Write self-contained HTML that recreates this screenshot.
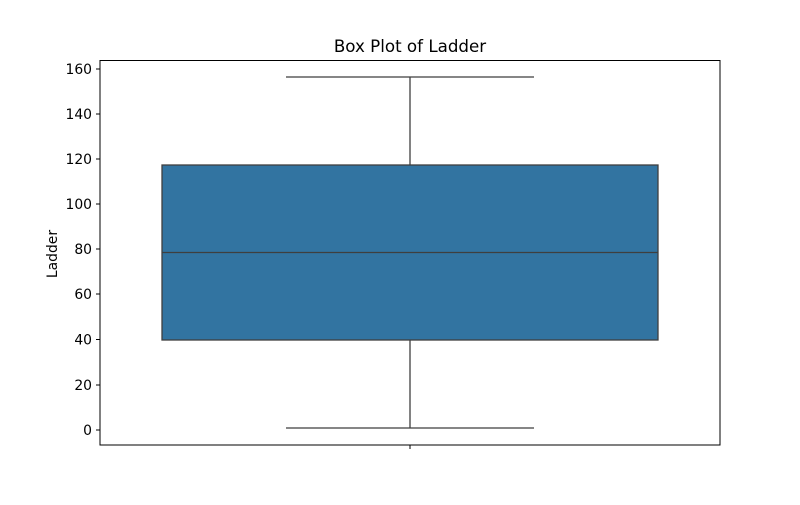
<!DOCTYPE html>
<html><head><style>body{margin:0;background:#fff}</style></head><body>
<svg width="800" height="500" xmlns="http://www.w3.org/2000/svg" font-family="DejaVu Sans, sans-serif">
<rect width="800" height="500" fill="#fff"/>
<text x="410" y="52" text-anchor="middle" font-size="16.7">Box Plot of Ladder</text>
<line x1="410" y1="77" x2="410" y2="165" stroke="#3f3f3f" stroke-width="1.3"/>
<line x1="410" y1="340" x2="410" y2="428" stroke="#3f3f3f" stroke-width="1.3"/>
<line x1="286" y1="77" x2="534" y2="77" stroke="#3f3f3f" stroke-width="1.3"/>
<line x1="286" y1="428" x2="534" y2="428" stroke="#3f3f3f" stroke-width="1.3"/>
<rect x="162" y="165" width="496" height="175" fill="#3274a1" stroke="#3f3f3f" stroke-width="1.3"/>
<line x1="162" y1="252.5" x2="658" y2="252.5" stroke="#3f3f3f" stroke-width="1.3"/>
<rect x="100" y="60.5" width="620" height="384.5" fill="none" stroke="#000" stroke-width="1"/>
<g font-size="13.9" text-anchor="end" fill="#000">
<g stroke="#000"><line x1="96" y1="69" x2="100" y2="69"/><line x1="96" y1="114" x2="100" y2="114"/><line x1="96" y1="159" x2="100" y2="159"/><line x1="96" y1="204" x2="100" y2="204"/><line x1="96" y1="249" x2="100" y2="249"/><line x1="96" y1="294" x2="100" y2="294"/><line x1="96" y1="339.5" x2="100" y2="339.5"/><line x1="96" y1="385" x2="100" y2="385"/><line x1="96" y1="430" x2="100" y2="430"/><line x1="410" y1="445" x2="410" y2="449"/></g>
<text x="92" y="74">160</text><text x="92" y="119">140</text><text x="92" y="164">120</text><text x="92" y="209">100</text><text x="92" y="254">80</text><text x="92" y="299">60</text><text x="92" y="344.5">40</text><text x="92" y="390">20</text><text x="92" y="435">0</text>
</g>
<text transform="translate(57,254) rotate(-90)" text-anchor="middle" font-size="13.9">Ladder</text>
</svg>
</body></html>
